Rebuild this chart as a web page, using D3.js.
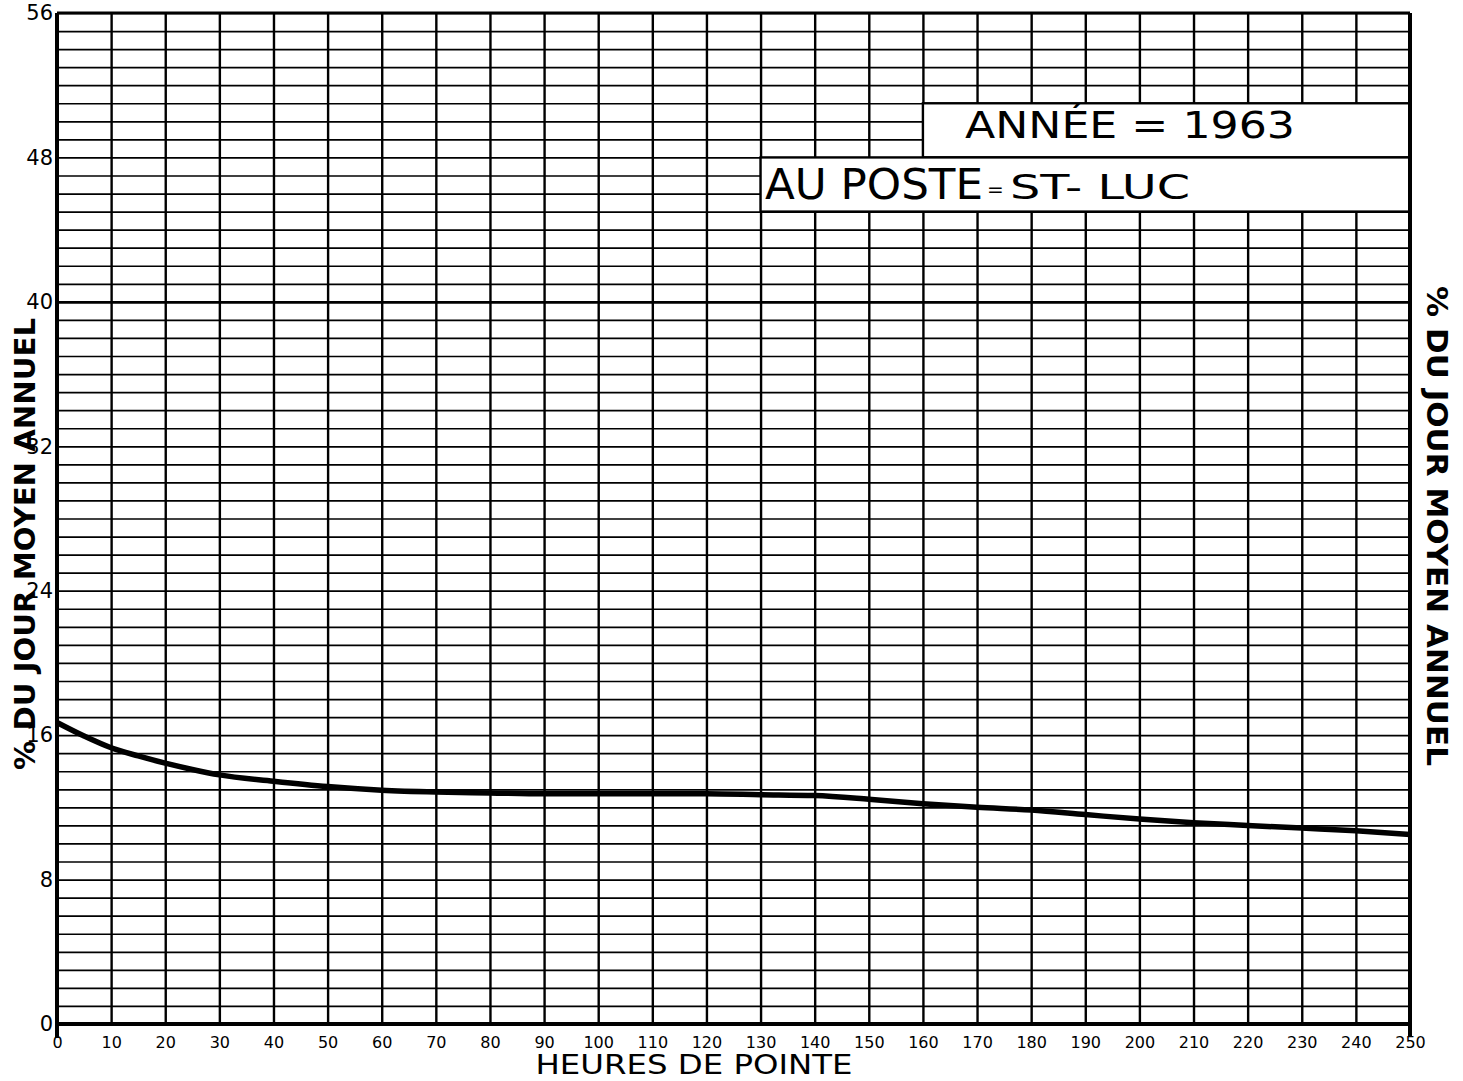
<!DOCTYPE html>
<html>
<head>
<meta charset="utf-8">
<script src="https://cdn.jsdelivr.net/npm/d3@7"></script>
<style>
  body { margin: 0; background: #fff; }
  text { font-family: "DejaVu Sans", sans-serif; fill: #000; }
</style>
</head>
<body>
<svg id="chart" width="1463" height="1081"></svg>
<script>
// heures de pointe (x) and % du jour moyen annuel (y)
const heures = [0, 5, 10, 15, 20, 25, 30, 40, 50, 60, 70, 80, 90, 100, 110, 120,
                130, 140, 150, 160, 170, 180, 190, 200, 210, 220, 230, 240, 250];
const pourcent = [16.7, 15.95, 15.3, 14.85, 14.45, 14.1, 13.8, 13.45, 13.15, 12.95, 12.85, 12.8, 12.75, 12.75, 12.75, 12.75,
                  12.7, 12.65, 12.45, 12.2, 12.0, 11.85, 11.6, 11.35, 11.15, 11.0, 10.85, 10.7, 10.5];
const xTicks = d3.range(0, 251, 10);
const yGrid = d3.range(0, 57, 1);
const yLabels = [0, 8, 16, 24, 32, 40, 48, 56];

const svg = d3.select("#chart");
const x = d3.scaleLinear().domain([0, 250]).range([57, 1410]);
const y = d3.scaleLinear().domain([0, 56]).range([1024, 13]);

// vertical grid
const gx = svg.append("g")
    .attr("transform", "translate(0," + y(0) + ")")
    .call(d3.axisBottom(x).tickValues(xTicks).tickSize(-(y(0) - y(56))).tickPadding(14).tickFormat(d3.format("d")));
gx.select(".domain").remove();
gx.selectAll(".tick line").attr("stroke", "#000").attr("stroke-width", 2.4);
gx.selectAll(".tick text").style("font-size", "16px").attr("dy", "0.9em").attr("y", 10);

// horizontal grid
const gy = svg.append("g")
    .attr("transform", "translate(" + x(0) + ",0)")
    .call(d3.axisLeft(y).tickValues(yGrid).tickSize(-(x(250) - x(0))).tickPadding(4)
        .tickFormat(function (d) { return yLabels.indexOf(d) >= 0 ? d : ""; }));
gy.select(".domain").remove();
gy.selectAll(".tick line")
    .attr("stroke", "#000")
    .attr("stroke-width", function (d) { return d == 40 ? 2.6 : 1.7; });
gy.selectAll(".tick text").style("font-size", "21px");

// frame
svg.append("line").attr("x1", x(0)).attr("x2", x(0)).attr("y1", y(56)).attr("y2", y(0) + 14)
    .attr("stroke", "#000").attr("stroke-width", 4);
svg.append("line").attr("x1", x(250)).attr("x2", x(250)).attr("y1", y(56)).attr("y2", y(0) + 12)
    .attr("stroke", "#000").attr("stroke-width", 4);
svg.append("line").attr("x1", x(0)).attr("x2", x(250)).attr("y1", y(0)).attr("y2", y(0))
    .attr("stroke", "#000").attr("stroke-width", 4);
svg.append("line").attr("x1", x(0)).attr("x2", x(250)).attr("y1", y(56)).attr("y2", y(56))
    .attr("stroke", "#000").attr("stroke-width", 3);

// label boxes
svg.append("rect")
    .attr("x", x(160)).attr("y", y(51))
    .attr("width", x(250) - x(160)).attr("height", y(48) - y(51))
    .attr("fill", "#fff").attr("stroke", "#000").attr("stroke-width", 2.4);
svg.append("rect")
    .attr("x", x(130)).attr("y", y(48))
    .attr("width", x(250) - x(130)).attr("height", y(45) - y(48))
    .attr("fill", "#fff").attr("stroke", "#000").attr("stroke-width", 2.4);
svg.append("line").attr("x1", x(250)).attr("x2", x(250)).attr("y1", y(51)).attr("y2", y(45))
    .attr("stroke", "#000").attr("stroke-width", 4);

svg.append("text").attr("x", 965).attr("y", 138)
    .attr("textLength", 330).attr("lengthAdjust", "spacingAndGlyphs")
    .style("font-size", "37px").text("ANNÉE = 1963");
svg.append("text").attr("x", 765).attr("y", 199)
    .attr("textLength", 218).attr("lengthAdjust", "spacingAndGlyphs")
    .style("font-size", "42px").text("AU POSTE");
svg.append("text").attr("x", 987).attr("y", 196)
    .style("font-size", "20px").text("=");
svg.append("text").attr("x", 1010).attr("y", 199)
    .attr("textLength", 180).attr("lengthAdjust", "spacingAndGlyphs")
    .style("font-size", "33px").text("ST- LUC");

// curve
const pts = heures.map(function (h, i) { return [h, pourcent[i]]; });
svg.append("path")
    .datum(pts)
    .attr("fill", "none")
    .attr("stroke", "#000")
    .attr("stroke-width", 5.5)
    .attr("stroke-linejoin", "round")
    .attr("d", d3.line()
        .x(function (d) { return x(d[0]); })
        .y(function (d) { return y(d[1]); })
        .curve(d3.curveMonotoneX));

// axis titles
svg.append("text").attr("x", 694).attr("y", 1074)
    .attr("text-anchor", "middle")
    .attr("textLength", 317).attr("lengthAdjust", "spacingAndGlyphs")
    .style("font-size", "26px").text("HEURES DE POINTE");

svg.append("text")
    .attr("transform", "translate(35,544) rotate(-90)")
    .attr("text-anchor", "middle")
    .attr("textLength", 452).attr("lengthAdjust", "spacingAndGlyphs")
    .style("font-size", "28px").style("font-weight", "bold").text("% DU  JOUR  MOYEN  ANNUEL");

svg.append("text")
    .attr("transform", "translate(1427,526) rotate(90)")
    .attr("text-anchor", "middle")
    .attr("textLength", 480).attr("lengthAdjust", "spacingAndGlyphs")
    .style("font-size", "28px").style("font-weight", "bold").text("% DU  JOUR  MOYEN  ANNUEL");
</script>
</body>
</html>
